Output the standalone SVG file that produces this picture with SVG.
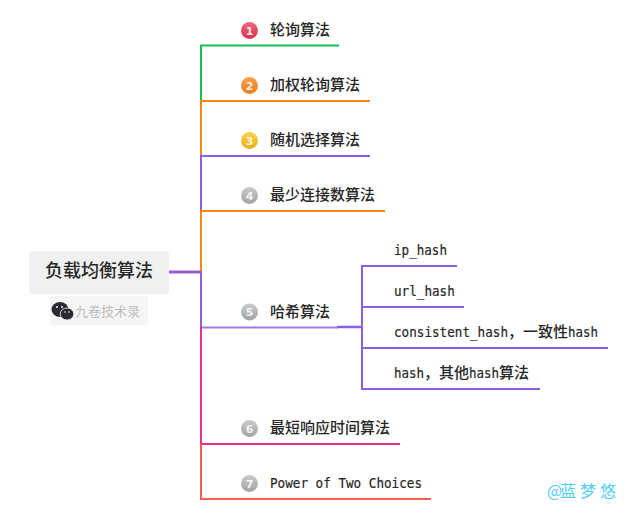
<svg xmlns="http://www.w3.org/2000/svg" width="637" height="521" viewBox="0 0 637 521">
<style>
.c{fill:none;stroke-width:2;stroke-linecap:square}
.t{font-family:"Noto Sans CJK SC",sans-serif;font-size:15px;fill:#262626;font-weight:500}
.l{font-family:"DejaVu Sans Mono",monospace;font-size:14.5px;stroke:#262626;stroke-width:.2}
.z{font-family:"Noto Sans CJK SC",sans-serif;font-size:15px;fill:#262626;font-weight:500}
.n{font-family:"DejaVu Sans",sans-serif;font-size:11px;font-weight:700;fill:#fff;text-anchor:middle;opacity:.85}
</style>
<defs>
<linearGradient id="g1" x1="0" y1="0" x2="0" y2="1"><stop offset="0" stop-color="#ee6a7c"/><stop offset="1" stop-color="#d92f4e"/></linearGradient>
<linearGradient id="g2" x1="0" y1="0" x2="0" y2="1"><stop offset="0" stop-color="#f9a24c"/><stop offset="1" stop-color="#ea7a1f"/></linearGradient>
<linearGradient id="g3" x1="0" y1="0" x2="0" y2="1"><stop offset="0" stop-color="#f8d24e"/><stop offset="1" stop-color="#eaae17"/></linearGradient>
<linearGradient id="g4" x1="0" y1="0" x2="0" y2="1"><stop offset="0" stop-color="#c9cccc"/><stop offset="1" stop-color="#9fa3a3"/></linearGradient>
</defs>
<g id="connectors">
<path class="c" stroke="#14c04d" d="M338 45.500H201V101"/>
<path class="c" stroke="#ff8310" d="M369 101H201V156"/>
<path class="c" stroke="#8d5fe0" d="M369 156H201V211"/>
<path class="c" stroke="#ff8310" d="M384 211H201V272"/>
<path class="c" stroke="#8d5fe0" d="M201 272V327"/>
<path fill="none" stroke="#9c5cd6" stroke-width="3" d="M169 272H201"/>
<path fill="none" stroke="#9f78ea" stroke-width="2" d="M201 327.500H338"/>
<path fill="none" stroke="#8d5fe0" stroke-width="2.500" d="M337 327H362"/>
<path class="c" stroke="#e8308a" d="M399 444H201V328"/>
<path class="c" stroke="#f65f4e" d="M430 499H201V445"/>
<path class="c" stroke="#8d5fe0" d="M456 266H362V389H539M362 307H463M362 348H607"/>
</g>
<g id="root">
<rect x="29" y="251" width="140" height="43" rx="4" fill="#eff0f0"/>
<text x="99" y="277" text-anchor="middle" font-family="'Noto Sans CJK SC',sans-serif" font-size="18px" font-weight="500" fill="#262626">负载均衡算法</text>
</g>
<g id="watermark">
<rect x="50" y="296" width="98" height="29" rx="2" fill="#f5f5f5"/>
<ellipse cx="60" cy="309.500" rx="8.500" ry="7.500" fill="#2a2a35"/>
<ellipse cx="67" cy="314" rx="6.800" ry="6" fill="#2a2a35" stroke="#f5f5f5" stroke-width=".8"/>
<circle cx="57" cy="307" r="1" fill="#f5f5f5"/><circle cx="62" cy="307" r="1" fill="#f5f5f5"/>
<circle cx="65" cy="312" r=".8" fill="#f5f5f5"/><circle cx="69" cy="312" r=".8" fill="#f5f5f5"/>
<text x="75" y="316" font-family="'Noto Sans CJK SC',sans-serif" font-size="13px" fill="#bdbdbd">九卷技术录</text>
</g>
<g id="n1"><circle cx="249.500" cy="30.500" r="8.500" fill="url(#g1)"/><text class="n" x="249.500" y="34.500">1</text><text class="z" x="270" y="35">轮询算法</text></g>
<g id="n2"><circle cx="249.500" cy="85.500" r="8.500" fill="url(#g2)"/><text class="n" x="249.500" y="89.500">2</text><text class="z" x="270" y="90">加权轮询算法</text></g>
<g id="n3"><circle cx="249.500" cy="140.500" r="8.500" fill="url(#g3)"/><text class="n" x="249.500" y="144.500">3</text><text class="z" x="270" y="145">随机选择算法</text></g>
<g id="n4"><circle cx="249.500" cy="195.500" r="8.500" fill="url(#g4)"/><text class="n" x="249.500" y="199.500">4</text><text class="z" x="270" y="200">最少连接数算法</text></g>
<g id="n5"><circle cx="249.500" cy="312" r="8.500" fill="url(#g4)"/><text class="n" x="249.500" y="316">5</text><text class="z" x="270" y="317">哈希算法</text></g>
<g id="n6"><circle cx="249.500" cy="428.500" r="8.500" fill="url(#g4)"/><text class="n" x="249.500" y="432.500">6</text><text class="z" x="270" y="433">最短响应时间算法</text></g>
<g id="n7"><circle cx="249.500" cy="483.500" r="8.500" fill="url(#g4)"/><text class="n" x="249.500" y="487.500">7</text><text class="t" x="270" y="488"><tspan class="l" textLength="152" lengthAdjust="spacingAndGlyphs">Power of Two Choices</tspan></text></g>
<g id="s1"><text class="t" x="394" y="255"><tspan class="l" textLength="53" lengthAdjust="spacingAndGlyphs">ip_hash</tspan></text></g>
<g id="s2"><text class="t" x="394" y="296"><tspan class="l" textLength="60.800" lengthAdjust="spacingAndGlyphs">url_hash</tspan></text></g>
<g id="s3"><text class="t" x="394" y="337"><tspan class="l" textLength="114" lengthAdjust="spacingAndGlyphs">consistent_hash</tspan><tspan x="508">，一致性</tspan><tspan class="l" x="568" textLength="30" lengthAdjust="spacingAndGlyphs">hash</tspan></text></g>
<g id="s4"><text class="t" x="394" y="378"><tspan class="l" textLength="30" lengthAdjust="spacingAndGlyphs">hash</tspan><tspan x="424">，其他</tspan><tspan class="l" x="469" textLength="30" lengthAdjust="spacingAndGlyphs">hash</tspan><tspan x="499">算法</tspan></text></g>
<text x="547 560 580 600" y="497" font-family="'Noto Sans CJK SC',sans-serif" font-size="16px" fill="#4fcdf8">@蓝梦悠</text>
</svg>
